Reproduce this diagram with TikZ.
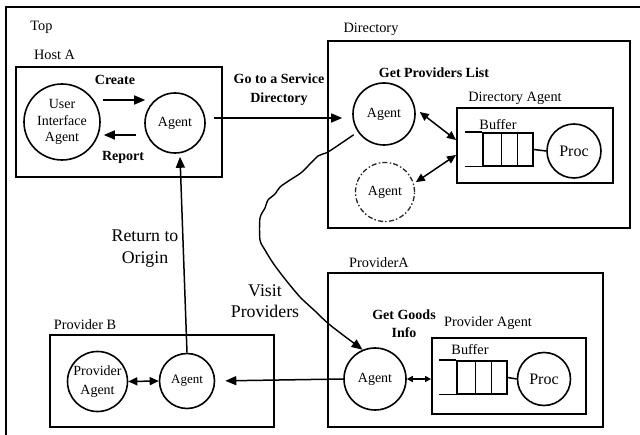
\documentclass[tikz,border=0pt]{standalone}
\usepackage{fontspec}
\setmainfont{Liberation Serif}
\usetikzlibrary{arrows.meta,calc}
\newcommand\myfs[2]{\fontsize{#1}{#2}\selectfont}
\begin{document}
\begin{tikzpicture}[x=1pt,y=-1pt,
  box/.style={draw, line width=1.9pt, rectangle, inner sep=0pt},
  circ/.style={draw, line width=1.6pt, circle, inner sep=0pt, align=center, font=\myfs{14}{16.5}},
  dashcirc/.style={circ, draw=black!85, line width=1.3pt, dash pattern=on 5pt off 2pt on 1.5pt off 2.5pt},
  lbl/.style={inner sep=0pt, align=center, font=\myfs{14.3}{17}},
  blbl/.style={inner sep=0pt, align=center, font=\bfseries\myfs{14}{19}},
  biglbl/.style={inner sep=0pt, align=center, font=\myfs{17.8}{21.5}},
  buf/.style={draw, line width=1.5pt, rectangle, inner sep=0pt, minimum width=50pt, minimum height=33pt},
  conn/.style={line width=1.5pt},
  arr/.style={conn, -{Triangle[length=11pt,width=9pt]}},
  darr/.style={conn, {Triangle[length=9pt,width=8pt]}-{Triangle[length=9pt,width=8pt]}},
  sdarr/.style={conn, {Triangle[length=6pt,width=6pt]}-{Triangle[length=6pt,width=6pt]}},
]
\useasboundingbox (0,0) rectangle (640,435);
% outer frame (top and left edges)
\draw[line width=1.9pt] (6,435) -- (6,7) -- (640,7);
\node[lbl] (top) at (41.5,27) {Top};

% ---- Host A ----
\node[lbl] (hostAlbl) at (54.5,55) {Host A};
\node[box, minimum width=206pt, minimum height=110pt] (hostA) at (119,122) {};
\node[circ, minimum size=76pt] (uia) at (62,122) {User\\Interface\\Agent};
\node[circ, minimum size=60pt] (hagent) at (175,123) {Agent};
\node[blbl] (create) at (115,80) {Create};
\node[blbl] (report) at (123,157) {Report};
\draw[arr] ([shift={(2pt,22pt)}]uia.east) -- ([shift={(1pt,23pt)}]hagent.west);
\draw[arr] ([shift={(-8pt,-12pt)}]hagent.west) -- ([shift={(3pt,-13pt)}]uia.east);
\node[blbl] (goto) at (279,90) {Go to a Service\\Directory};

% ---- Directory ----
\node[lbl] (dirlbl) at (371,29) {Directory};
\node[box, minimum width=302pt, minimum height=187pt] (dir) at (479,134.5) {};
\node[blbl] (getlist) at (434,73) {Get Providers List};
\node[circ, minimum size=62pt] (dagent) at (384,114) {Agent};
\node[dashcirc, minimum size=59pt] (xagent) at (385,192) {Agent};
\node[lbl] (dalbl) at (515,98) {Directory Agent};
\node[box, minimum width=156pt, minimum height=75pt] (dabox) at (535,145.5) {};
\node[lbl] (dbuflbl) at (498,125) {Buffer};
\node[buf] (dbuf) at (508,149.5) {};
\draw[line width=1.5pt] (dbuf.north west) -- ++(-17,0);
\draw[line width=1.5pt] (dbuf.south west) -- ++(-17,0);
\foreach \o in {19,35}{\draw[line width=1.5pt] ([xshift=\o pt]dbuf.north west) -- ([xshift=\o pt]dbuf.south west);}
\node[circ, minimum size=54pt, font=\myfs{16}{20}] (dproc) at (574,151) {Proc};
\draw[line width=1.5pt] (dbuf.east) -- (dproc.west);
\draw[darr] ([shift={(4pt,2pt)}]dagent.east) -- ([yshift=5.5pt]dabox.west);
\draw[darr] ([yshift=-9.5pt]dabox.west) -- ([shift={(2pt,1pt)}]xagent.17);
\draw[arr, shorten <=8pt, shorten >=10pt] ([yshift=5pt]hagent.east) -- ([yshift=-4pt]dagent.west);

% ---- Provider A ----
\node[lbl] (provAlbl) at (379,263) {ProviderA};
\node[box, minimum width=275pt, minimum height=154pt] (provA) at (465.5,350) {};
\node[blbl, font=\bfseries\myfs{14}{18}] (goods) at (404,324) {Get Goods\\Info};
\node[lbl] (palbl) at (488,323) {Provider Agent};
\node[box, minimum width=154pt, minimum height=76pt] (pabox) at (509,376) {};
\node[lbl] (abuflbl) at (470,350) {Buffer};
\node[buf] (abuf) at (482,377.5) {};
\draw[line width=1.5pt] (abuf.north west) -- ++(-17,0);
\draw[line width=1.5pt] (abuf.south west) -- ++(-17,0);
\foreach \o in {19,35}{\draw[line width=1.5pt] ([xshift=\o pt]abuf.north west) -- ([xshift=\o pt]abuf.south west);}
\node[circ, minimum size=53pt, font=\myfs{16}{20}] (aproc) at (544,379) {Proc};
\draw[line width=1.5pt] (abuf.east) -- (aproc.west);
\node[circ, minimum size=62pt] (aagent) at (375,379) {Agent};
\draw[sdarr] (aagent.east) -- ([yshift=-3pt]pabox.west);

% ---- Provider B ----
\node[lbl] (provBlbl) at (85,325) {Provider B};
\node[box, minimum width=224pt, minimum height=92pt] (provB) at (162,381) {};
\node[circ, minimum size=60pt, font=\myfs{14}{19}] (bpa) at (97.5,381.5) {Provider\\Agent};
\node[circ, minimum size=55pt, font=\myfs{13}{15}] (bagent) at (187,381) {Agent};
\draw[darr] (bpa.east) -- (bagent.west);
\draw[arr, shorten >=10pt] (aagent.west) -- (bagent.east);

% ---- journeys ----
\draw[arr] (bagent.north) -- ([shift={(5pt,-3pt)}]hagent.south);
\node[biglbl] (ret) at (145,248.5) {Return to\\Origin};
\node[biglbl] (visit) at (265,301) {Visit\\Providers};
\draw[arr, line width=1.4pt] plot[smooth, tension=0.45] coordinates {([shift={(-4pt,-3pt)}]dagent.214) (328,152) (318,156) (302,172) (290,180) (280,187) (275,194) (268,200) (265,208) (260,218) (260,240) (265,250) (273,263) (285,279) (300,297) (315,311) (330,325) (aagent.113)};
\end{tikzpicture}
\end{document}
